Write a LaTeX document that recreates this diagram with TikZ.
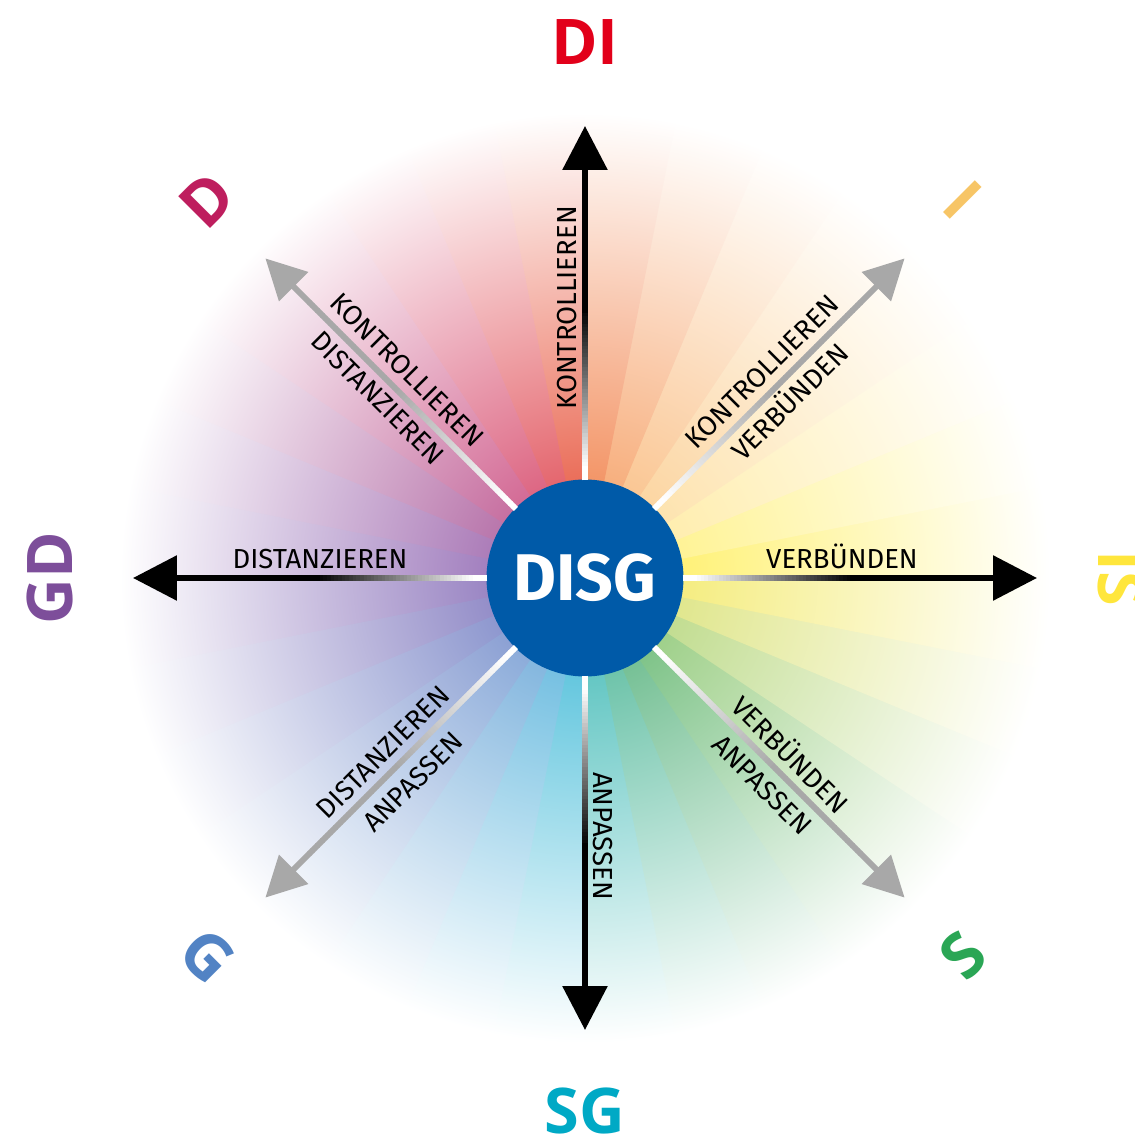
\documentclass[tikz,border=0pt]{standalone}
\usepackage{fontspec}
\setmainfont{Fira Sans}
\newfontfamily\letterfont{Open Sans}
\usepackage{tikz}
\usetikzlibrary{arrows.meta,calc}
\definecolor{disgblue}{HTML}{005AA8}
\definecolor{colDI}{HTML}{E2001A}
\definecolor{colD}{HTML}{BE1E5E}
\definecolor{colI}{HTML}{F7C566}
\definecolor{colIS}{HTML}{FFE63C}
\definecolor{colS}{HTML}{2AA655}
\definecolor{colSG}{HTML}{00A9C5}
\definecolor{colG}{HTML}{5283C4}
\definecolor{colGD}{HTML}{7D4E9A}
\definecolor{diaggray}{HTML}{A8A8A8}
\tikzstyle{hub} = [circle, fill=disgblue, minimum size=197pt, inner sep=0pt, text=white, font=\fontsize{66}{78}\selectfont\bfseries]
\tikzstyle{corner} = [inner sep=0pt, font=\fontsize{63}{70}\selectfont\letterfont\bfseries]
\tikzstyle{arrowtext} = [inner sep=0pt, text height=19pt, text depth=0pt, font=\fontsize{27.5}{31}\selectfont]
\tikzstyle{shaft} = [line width=6pt]
\tikzstyle{blackhead} = [-{Triangle[length=44pt,width=44pt]}]
\tikzstyle{grayhead} = [-{Triangle[length=40pt,width=40pt]}]

% shaft from the hub to a tip, white at the hub, full colour towards the head
\newcommand{\fadeshaft}[3]{%
  \foreach \k in {0,...,79} {%
    \pgfmathsetmacro{\ta}{0.216+\k*0.00805}%
    \pgfmathsetmacro{\tb}{\ta+0.0095}%
    \pgfmathtruncatemacro{\pct}{max(0,min(100,(\k-3)*100/43))}%
    \draw[shaft, draw=#2!\pct!white] ($(disg.center)!\ta!(#1)$) -- ($(disg.center)!\tb!(#1)$);
  }%
  \draw[shaft, draw=#2, #3] ($(disg.center)!0.86!(#1)$) -- (#1);
}

\begin{document}
\begin{tikzpicture}[x=1pt, y=1pt]
	\useasboundingbox (-585pt,-557pt) rectangle (550pt,578pt);

	% colour wheel
	\foreach \hex [count=\i from 0] in {FFEE55,FFF07A,FFE99A,FDDC9A,FBCB8A,F9B878,F59A5C,F07A40,
		E5482E,DD3E48,D43E62,C8447A,B84A88,A65296,965AA6,8A5EAE,
		8066B4,7870BA,707CC2,6E88C8,6E96D0,64A4D6,52B0DA,3CB8D6,
		3CB8B4,48B494,52B07A,5EB46A,86C46C,B2D474,D8E070,F2E860} {
		\definecolor{slice}{HTML}{\hex}
		\begin{scope}
			\clip (0,0) -- (\i*11.25:465pt) arc[start angle=\i*11.25, delta angle=11.6, radius=465pt] -- cycle;
			\shade[inner color=slice, outer color=white] (0,0) circle (465pt);
		\end{scope}
	}

	\node[hub] (disg) at (0,0) {DISG};

	\coordinate (tipN) at (90:452pt);
	\coordinate (tipNE) at (45:452pt);
	\coordinate (tipE) at (0:452pt);
	\coordinate (tipSE) at (-45:452pt);
	\coordinate (tipS) at (-90:452pt);
	\coordinate (tipSW) at (-135:452pt);
	\coordinate (tipW) at (180:452pt);
	\coordinate (tipNW) at (135:452pt);

	\fadeshaft{tipN}{black}{blackhead}
	\fadeshaft{tipE}{black}{blackhead}
	\fadeshaft{tipS}{black}{blackhead}
	\fadeshaft{tipW}{black}{blackhead}
	\fadeshaft{tipNE}{diaggray}{grayhead}
	\fadeshaft{tipSE}{diaggray}{grayhead}
	\fadeshaft{tipSW}{diaggray}{grayhead}
	\fadeshaft{tipNW}{diaggray}{grayhead}

	% style letters
	\node[corner, text=colDI] (di) at (90:536pt) {DI};
	\node[corner, text=colI, rotate=-45] (i) at (45:534pt) {I};
	\node[corner, text=colIS, rotate=-90] (is) at (0:536pt) {IS};
	\node[corner, text=colS, rotate=45] (s) at (-45:534pt) {S};
	\node[corner, text=colSG] (sg) at (-90:533pt) {SG};
	\node[corner, text=colG, rotate=-45] (g) at (-135:534pt) {G};
	\node[corner, text=colGD, rotate=90] (gd) at (180:535pt) {GD};
	\node[corner, text=colD, rotate=45] (d) at (135:535pt) {D};

	% arrow texts
	\node[arrowtext, rotate=90] (kontrN) at (-18pt,270pt) {KONTROLLIEREN};
	\node[arrowtext, rotate=-90] (anpS) at (18pt,-258pt) {ANPASSEN};
	\node[arrowtext] (distW) at (-265pt,19pt) {DISTANZIEREN};
	\node[arrowtext] (verbE) at (257pt,19pt) {VERBÜNDEN};
	\node[arrowtext, rotate=-45] (kontrNW) at (-178pt,208pt) {KONTROLLIEREN};
	\node[arrowtext, rotate=-45] (distNW) at (-207pt,180pt) {DISTANZIEREN};
	\node[arrowtext, rotate=45] (kontrNE) at (177pt,206pt) {KONTROLLIEREN};
	\node[arrowtext, rotate=45] (verbNE) at (205pt,176pt) {VERBÜNDEN};
	\node[arrowtext, rotate=-45] (verbSE) at (205pt,-177pt) {VERBÜNDEN};
	\node[arrowtext, rotate=-45] (anpSE) at (177pt,-207pt) {ANPASSEN};
	\node[arrowtext, rotate=45] (distSW) at (-202pt,-174pt) {DISTANZIEREN};
	\node[arrowtext, rotate=45] (anpSW) at (-172pt,-204pt) {ANPASSEN};
\end{tikzpicture}
\end{document}
